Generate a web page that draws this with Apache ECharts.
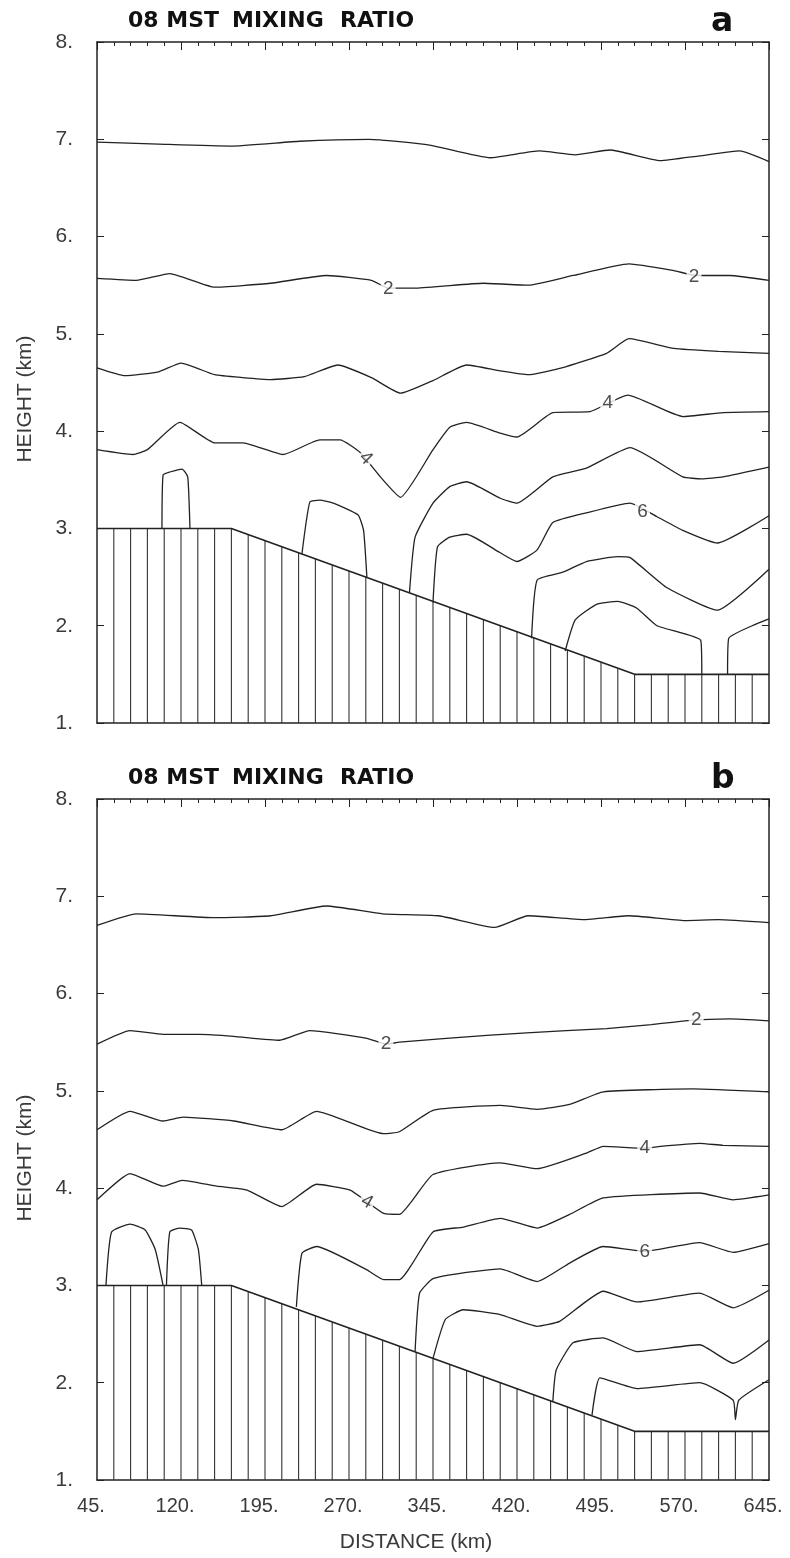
<!DOCTYPE html>
<html><head><meta charset="utf-8">
<script src="https://cdn.jsdelivr.net/npm/echarts@6/dist/echarts.min.js"></script>
<style>html,body{margin:0;padding:0;background:#fff}#c{width:790px;height:1558px}</style>
</head><body><div id="c"></div>
<script>
// ---- axis tick labels ----
const distLabels = [45,120,195,270,345,420,495,570,645];
const heightTicks = [1,2,3,4,5,6,7,8];
// ---- terrain (km, km) ----
const terrainDist = [45,165,525,645];
const terrainHeight = [3.0,3.0,1.5,1.5];
// ---- panel a contours: [distance km, height km] ----
const a1 = [[45,6.97],[100,6.95],[164,6.93],[226,6.98],[288,7.0],[342,6.94],[396,6.81],[440,6.88],[472,6.84],[503,6.89],[548,6.78],[583,6.83],[619,6.88],[645,6.77]];
const a2 = [[45,5.57],[80,5.55],[110,5.62],[150,5.48],[200,5.52],[250,5.6],[290,5.55],[305,5.47],[330,5.47],[390,5.52],[430,5.5],[470,5.6],[520,5.72],[560,5.65],[580,5.6],[610,5.6],[645,5.55]];
const a3 = [[45,4.65],[70,4.57],[100,4.61],[120,4.7],[150,4.58],[175,4.55],[200,4.53],[230,4.56],[260,4.68],[290,4.55],[316,4.39],[345,4.52],[375,4.68],[405,4.62],[430,4.58],[460,4.65],[500,4.8],[520,4.95],[560,4.85],[600,4.82],[645,4.8]];
const a4 = [[45,3.81],[77,3.76],[90,3.81],[119,4.09],[150,3.88],[175,3.88],[211,3.76],[244,3.91],[262,3.91],[280,3.78],[298,3.53],[316,3.32],[345,3.81],[360,4.04],[375,4.09],[405,3.98],[420,3.94],[452,4.19],[485,4.2],[519,4.37],[568,4.15],[604,4.19],[645,4.2]];
const a5 = [[324,2.34],[329,2.91],[345,3.26],[360,3.43],[375,3.48],[405,3.31],[420,3.26],[452,3.53],[482,3.62],[521,3.83],[568,3.53],[585,3.51],[604,3.53],[645,3.63]];
const a6 = [[345,2.24],[349,2.81],[360,2.91],[375,2.94],[405,2.75],[420,2.66],[438,2.78],[452,3.06],[482,3.16],[521,3.26],[545,3.12],[568,2.98],[599,2.85],[645,3.13]];
const a7 = [[433,1.87],[438,2.47],[461,2.55],[482,2.66],[510,2.71],[521,2.7],[554,2.39],[599,2.16],[645,2.58]];
const a8L = [[463,1.74],[472,2.06],[491,2.22],[510,2.25],[527,2.18],[545,2.0],[584,1.85],[585,1.5]];
const a8R = [[608,1.5],[609,1.87],[630,2.0],[645,2.07]];
const aBump1 = [[103,3.0],[104,3.55],[110,3.58],[121,3.61],[126,3.53],[128,3.0]];
const aBump2 = [[228,2.74],[235,3.27],[244,3.29],[256,3.26],[278,3.14],[283,2.98],[286,2.49]];
const aLabels = [[305,5.46,'2',0],[578,5.59,'2',0],[285,3.72,'4',-45],[501,4.29,'4',0],[532,3.17,'6',0]];
// ---- panel b contours ----
const b1 = [[45,6.7],[80,6.82],[150,6.78],[200,6.8],[250,6.9],[300,6.82],[350,6.8],[400,6.68],[430,6.8],[480,6.76],[520,6.8],[570,6.75],[600,6.76],[645,6.73]];
const b2 = [[45,5.48],[74.5,5.62],[104,5.58],[137,5.58],[167,5.56],[208,5.52],[235,5.62],[286,5.54],[303,5.48],[315,5.5],[393,5.57],[464,5.62],[500,5.64],[540,5.68],[570,5.72],[610,5.74],[645,5.72]];
const b3 = [[45,4.6],[74.5,4.79],[104,4.69],[122,4.73],[167,4.69],[210,4.6],[241,4.79],[301,4.56],[315,4.58],[345,4.8],[405,4.85],[438,4.81],[467,4.86],[497,4.99],[577,5.02],[645,4.99]];
const b4 = [[45,3.88],[74.5,4.15],[104,4.02],[121,4.08],[152,4.02],[179,3.98],[210,3.81],[241,4.04],[271,3.98],[286,3.86],[301,3.74],[315,3.73],[345,4.14],[405,4.26],[438,4.2],[482,4.36],[497,4.43],[534,4.41],[548,4.43],[583,4.46],[604,4.44],[645,4.43]];
const b5 = [[223,2.78],[228,3.33],[241,3.4],[286,3.16],[301,3.06],[315,3.06],[345,3.55],[372,3.6],[405,3.69],[438,3.59],[467,3.73],[497,3.9],[583,3.95],[613,3.88],[645,3.93]];
const b6 = [[329,2.32],[333,2.92],[345,3.07],[372,3.13],[405,3.17],[438,3.04],[467,3.23],[497,3.4],[534,3.35],[583,3.44],[613,3.34],[645,3.43]];
const b7 = [[345,2.25],[356,2.65],[372,2.75],[405,2.7],[438,2.58],[458,2.63],[497,2.94],[527,2.83],[583,2.92],[613,2.77],[645,2.95]];
const b8 = [[452,1.81],[455,2.13],[470,2.41],[497,2.46],[527,2.32],[583,2.39],[613,2.2],[645,2.44]];
const b9 = [[487,1.67],[494,2.05],[527,1.94],[583,2.0],[613,1.82],[615,1.62],[618,1.82],[645,2.03]];
const bBump1 = [[53,3.0],[58,3.55],[74.5,3.63],[88,3.57],[97,3.37],[104,3.0]];
const bBump2 = [[107,3.0],[110,3.55],[119,3.59],[129.5,3.57],[135.5,3.37],[138.5,3.0]];
const bLabels = [[303,5.48,'2',0],[580,5.73,'2',0],[286,3.86,'4',-30],[534,4.41,'4',0],[534,3.35,'6',0]];

const HATCH = 15; // hatch spacing (style)
function terrainAt(d){
  for(let i=0;i<terrainDist.length-1;i++){
    if(d>=terrainDist[i]&&d<=terrainDist[i+1]){
      const t=(d-terrainDist[i])/(terrainDist[i+1]-terrainDist[i]);
      return terrainHeight[i]+t*(terrainHeight[i+1]-terrainHeight[i]);
    }
  }
  return terrainHeight[terrainHeight.length-1];
}
const hatch=[];
for(let d=terrainDist[0]+HATCH; d<terrainDist[terrainDist.length-1]; d+=HATCH) hatch.push([d,terrainAt(d)]);
const terrainLine = terrainDist.map((d,i)=>[d,terrainHeight[i]]);

const LINE='#222', TXT='#3a3a3a';
const numFont = "'Liberation Sans', Arial, sans-serif";
const majorTop = distLabels;

const grids=[{left:97,top:42,width:672,height:681},{left:97,top:799,width:672,height:681}];
const xAxis=[], yAxis=[], series=[];
grids.forEach((g,gi)=>{
  xAxis.push({gridIndex:gi,type:'value',min:45,max:645,position:'bottom',
    axisLine:{show:true,onZero:false,lineStyle:{color:LINE,width:1.5}},axisTick:{show:false},splitLine:{show:false},
    axisLabel:{show:gi===1,customValues:distLabels,formatter:v=>v+'.',color:TXT,fontFamily:numFont,fontSize:20,margin:16,padding:[0,12,0,0]}});
  xAxis.push({gridIndex:gi,type:'value',min:45,max:645,interval:15,position:'top',
    axisLine:{show:true,onZero:false,lineStyle:{color:LINE,width:1.5}},axisTick:{show:true,inside:true,length:4,lineStyle:{color:LINE,width:1}},
    splitLine:{show:false},axisLabel:{show:false}});
  xAxis.push({gridIndex:gi,type:'value',min:45,max:645,position:'top',
    axisLine:{show:false},axisTick:{show:true,inside:true,length:8,customValues:majorTop,lineStyle:{color:LINE,width:1}},
    splitLine:{show:false},axisLabel:{show:false}});
  yAxis.push({gridIndex:gi,type:'value',min:1,max:8,interval:1,position:'left',
    axisLine:{show:true,onZero:false,lineStyle:{color:LINE,width:1.5}},axisTick:{show:true,inside:true,length:7,lineStyle:{color:LINE,width:1}},
    splitLine:{show:false},axisLabel:{show:true,formatter:v=>v+'.',color:TXT,fontFamily:numFont,fontSize:21,margin:24,padding:[6,0,0,0]}});
  yAxis.push({gridIndex:gi,type:'value',min:1,max:8,interval:1,position:'right',
    axisLine:{show:true,onZero:false,lineStyle:{color:LINE,width:1.5}},axisTick:{show:true,inside:true,length:7,lineStyle:{color:LINE,width:1}},
    splitLine:{show:false},axisLabel:{show:false}});
  const xi=gi*3, yi=gi*2;
  series.push({type:'custom',xAxisIndex:xi,yAxisIndex:yi,data:hatch,silent:true,z:2,
    renderItem:(p,api)=>{const a=api.coord([api.value(0),1]);const b=api.coord([api.value(0),api.value(1)]);
      return {type:'line',shape:{x1:a[0],y1:a[1],x2:b[0],y2:b[1]},style:{stroke:'#333',lineWidth:1.1}};}});
  series.push({type:'line',xAxisIndex:xi,yAxisIndex:yi,data:terrainLine,symbol:'none',silent:true,z:3,
    lineStyle:{color:LINE,width:1.6}});
  const lines = gi===0 ? [a1,a2,a3,a4,a5,a6,a7,a8L,a8R,aBump1,aBump2] : [b1,b2,b3,b4,b5,b6,b7,b8,b9,bBump1,bBump2];
  lines.forEach(arr=>series.push({type:'line',xAxisIndex:xi,yAxisIndex:yi,data:arr,symbol:'none',smooth:0.15,silent:true,z:4,
    lineStyle:{color:LINE,width:1.3}}));
  const labs = gi===0 ? aLabels : bLabels;
  series.push({type:'scatter',xAxisIndex:xi,yAxisIndex:yi,z:6,silent:true,
    data:labs.map(l=>({value:[l[0],l[1]],symbolRotate:l[3],label:{formatter:l[2],rotate:l[3]}})),
    symbol:'rect',symbolSize:[15,20],itemStyle:{color:'#fff'},
    label:{show:true,position:'inside',color:'#222',fontFamily:numFont,fontSize:19}});
});

const titleFont = "bold 22px 'DejaVu Sans', Arial, sans-serif";
const graphic=[];
[[20.5,'a'],[777.5,'b']].forEach(([y,l])=>{
  graphic.push({type:'text',left:128,top:y-10,style:{text:'08 MST',font:titleFont,fill:'#111'}});
  graphic.push({type:'text',left:232,top:y-10,style:{text:'MIXING',font:titleFont,fill:'#111'}});
  graphic.push({type:'text',left:340,top:y-10,style:{text:'RATIO',font:titleFont,fill:'#111'}});
  graphic.push({type:'text',left:711,top:y-15,style:{text:l,font:"bold 33px 'DejaVu Sans', Arial, sans-serif",fill:'#111'}});
});
[399,1158].forEach(cy=>{
  graphic.push({type:'text',x:25,y:cy,rotation:Math.PI/2,style:{text:'HEIGHT (km)',font:"21px 'Liberation Sans', Arial, sans-serif",fill:TXT,align:'center',verticalAlign:'middle'}});
});
graphic.push({type:'text',x:416,y:1542,style:{text:'DISTANCE (km)',font:"21px 'Liberation Sans', Arial, sans-serif",fill:TXT,align:'center',verticalAlign:'middle'}});

const chart=echarts.init(document.getElementById('c'),null,{renderer:'canvas'});
chart.setOption({animation:false,backgroundColor:'#fff',grid:grids,xAxis,yAxis,series,graphic});
</script></body></html>
